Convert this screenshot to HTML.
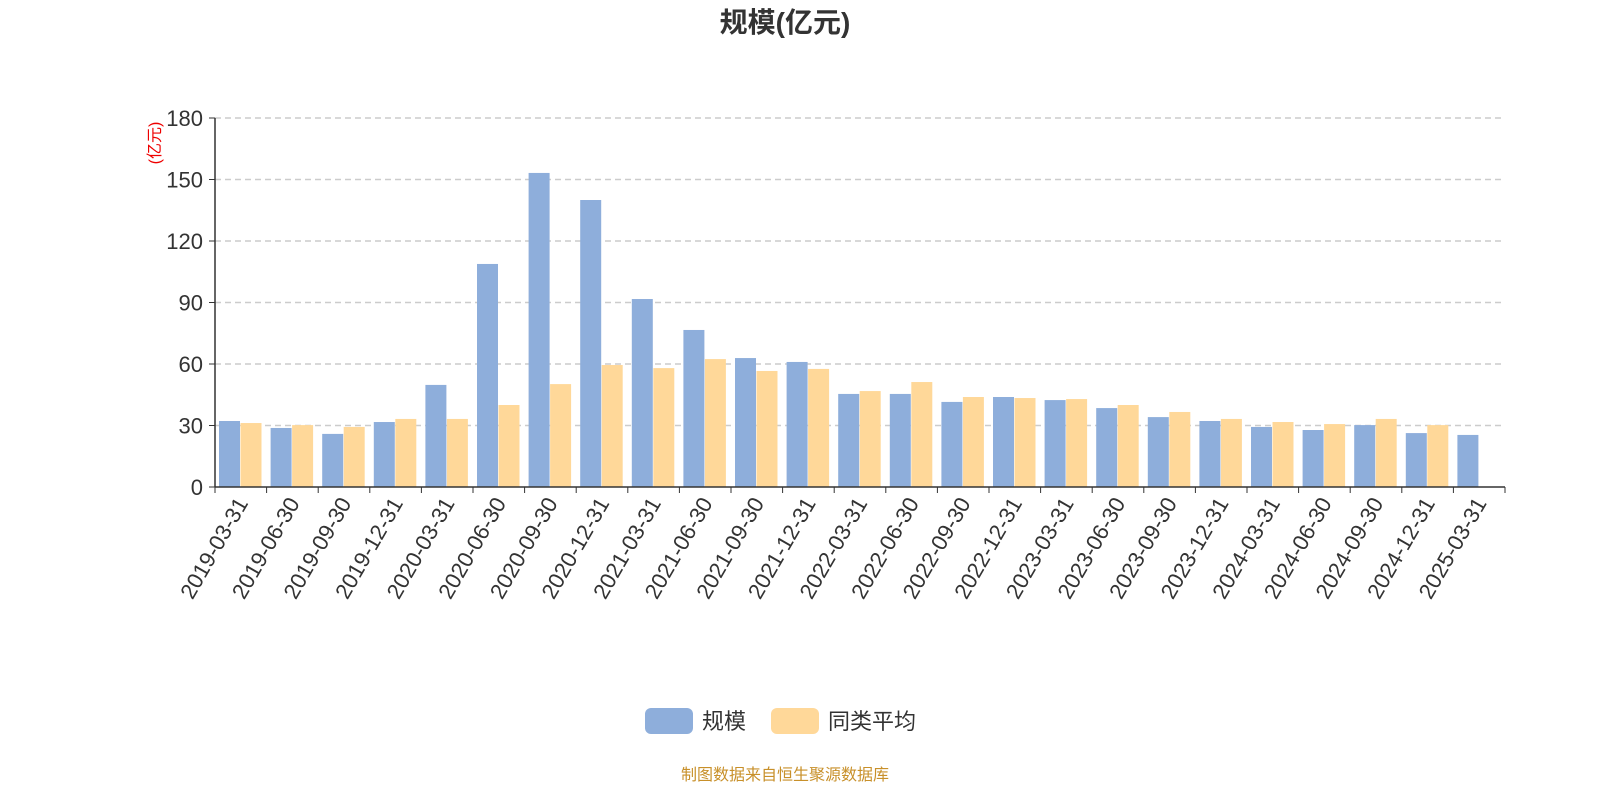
<!DOCTYPE html>
<html><head><meta charset="utf-8"><style>
body{margin:0;background:#fff;overflow:hidden;}
svg{display:block;}
svg text{font-family:"Liberation Sans","Noto Sans CJK SC",sans-serif;}
</style></head><body>
<svg id="chart" width="1600" height="800" xmlns="http://www.w3.org/2000/svg">
<text x="785" y="32" text-anchor="middle" font-size="28" font-weight="bold" fill="#333">规模(亿元)</text>
<text transform="translate(160,143) rotate(-90)" text-anchor="middle" font-size="16" fill="#e00">(亿元)</text>
<g id="grid"></g><g id="bars"></g><g id="axes"></g>
<g>
<g><rect x="645" y="708" width="48" height="26" rx="6" fill="#8eaedb"/><text x="702" y="729" font-size="22" fill="#333">规模</text></g>
<g><rect x="771" y="708" width="48" height="26" rx="6" fill="#ffd899"/><text x="828" y="729" font-size="22" fill="#333">同类平均</text></g>
</g>
<text x="785" y="780" text-anchor="middle" font-size="16" fill="#c8902a">制图数据来自恒生聚源数据库</text>
</svg>
<script>
const categories=["2019-03-31","2019-06-30","2019-09-30","2019-12-31","2020-03-31","2020-06-30","2020-09-30","2020-12-31","2021-03-31","2021-06-30","2021-09-30","2021-12-31","2022-03-31","2022-06-30","2022-09-30","2022-12-31","2023-03-31","2023-06-30","2023-09-30","2023-12-31","2024-03-31","2024-06-30","2024-09-30","2024-12-31","2025-03-31"];
const scaleValues=[32.2,28.8,25.9,31.7,49.8,108.8,153.2,140,91.7,76.6,62.9,61,45.4,45.4,41.5,43.9,42.4,38.5,34.1,32.2,29.3,27.8,30.2,26.3,25.4];
const avgValues=[31.2,30.2,29.3,33.2,33.2,40,50.2,59.5,58,62.4,56.6,57.6,46.8,51.2,43.9,43.4,42.9,40,36.6,33.2,31.7,30.7,33.2,30.2,null];
const yTicks=[0,30,60,90,120,150,180];
const X0=215,X1=1505,Y0=487,Y1=118,YMAX=180;
const NS="http://www.w3.org/2000/svg";
const cw=(X1-X0)/categories.length;
const y=v=>Y0-(v/YMAX)*(Y0-Y1);
const x=i=>X0+i*cw;
function mk(tag,attrs,parent,txt){const e=document.createElementNS(NS,tag);for(const k in attrs)e.setAttribute(k,attrs[k]);if(txt!==undefined)e.textContent=txt;document.getElementById(parent).appendChild(e);return e;}
yTicks.forEach(t=>{
  if(t>0){const g=mk("line",{x1:X0,x2:X1,y1:y(t),y2:y(t),stroke:"#ccc","stroke-dasharray":"6,4","stroke-width":1.5},"grid");
  
  }
  const l=mk("text",{x:X0-12,y:y(t)+8,"text-anchor":"end","font-size":22,fill:"#333"},"axes",t);
  
  
  const tk=mk("line",{x1:X0-6,x2:X0,y1:y(t),y2:y(t),stroke:"#333"},"axes");
  
  
});
const bw=21;
categories.forEach((c,i)=>{
  if(scaleValues[i]!=null){const r=mk("rect",{x:x(i)+4,y:y(scaleValues[i]),width:bw,height:Y0-y(scaleValues[i]),fill:"#8eaedb"},"bars");
  
  }
  if(avgValues[i]!=null){const r=mk("rect",{x:x(i)+25.5,y:y(avgValues[i]),width:bw,height:Y0-y(avgValues[i]),fill:"#ffd899"},"bars");
  
  }
  const tx=x(i)+cw/2;
  const lab=mk("text",{transform:`translate(${tx+8},${Y0+16}) rotate(-60)`,"text-anchor":"end","font-size":22,fill:"#333"},"axes",c);
  
  
});
for(let i=0;i<=categories.length;i++){const t=mk("line",{x1:x(i),x2:x(i),y1:Y0,y2:Y0+6,stroke:"#333"},"axes");

}
const ax=mk("line",{x1:X0,x2:X1,y1:Y0,y2:Y0,stroke:"#333","stroke-width":1.5},"axes");


const ay=mk("line",{x1:X0,x2:X0,y1:Y1,y2:Y0,stroke:"#333","stroke-width":1.5},"axes");


</script>
</body></html>
